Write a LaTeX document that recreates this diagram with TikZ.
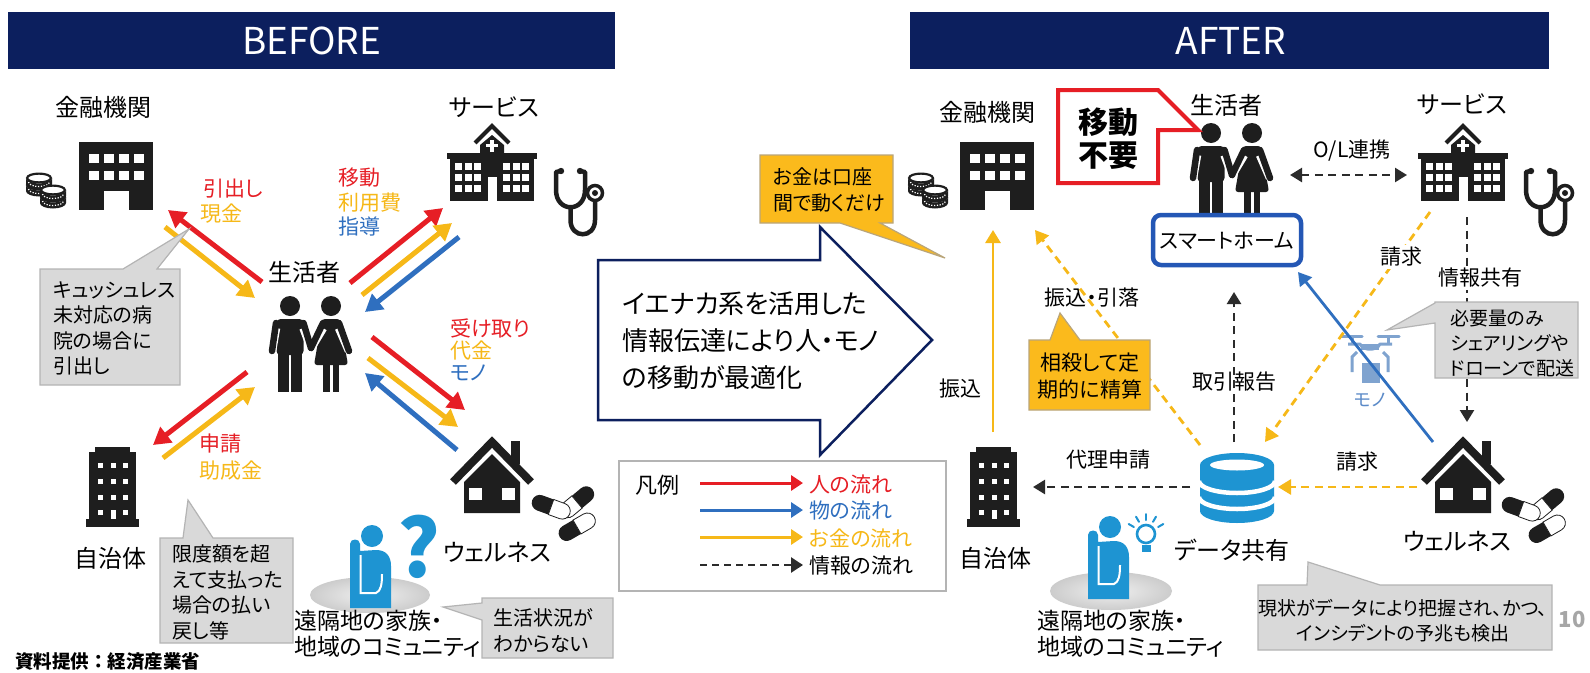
\documentclass[tikz,border=0pt]{standalone}
\usepackage{fontspec}
\setmainfont{Noto Sans CJK JP}[RawFeature={+palt}]
\newfontfamily\jpfixed{Noto Sans CJK JP}
\usetikzlibrary{arrows.meta}

\definecolor{navy}{HTML}{0C1F5E}
\definecolor{flowred}{HTML}{E61E25}
\definecolor{flowyel}{HTML}{F6B818}
\definecolor{flowblue}{HTML}{2F6FBF}
\definecolor{icondark}{HTML}{1E1E1E}
\definecolor{skyblue}{HTML}{1E94D2}
\definecolor{notegray}{HTML}{D9D9D9}
\definecolor{noteedge}{HTML}{B4B4B4}
\definecolor{noteorange}{HTML}{FBBA1C}
\definecolor{orangeedge}{HTML}{B9A57A}
\definecolor{homeblue}{HTML}{2457B5}
\definecolor{dronegray}{HTML}{7FA3CF}
\definecolor{monoblue}{HTML}{5B8AC8}
\definecolor{pagegray}{HTML}{A6A6A6}
\definecolor{infoblack}{HTML}{2B2B2B}

\tikzset{
  hdr/.style={inner sep=0pt,text=white,font=\fontsize{37}{42}\selectfont},
  lbl/.style={inner sep=0pt,font=\fontsize{24}{28}\selectfont},
  flowlbl/.style={inner sep=0pt,anchor=west,font=\fontsize{21}{24}\selectfont},
  linklbl/.style={inner sep=0pt,font=\fontsize{21}{24}\selectfont},
  notetxt/.style={inner sep=0pt,align=left,anchor=west,font=\fontsize{20}{25.5}\selectfont},
  note/.style={fill=notegray,draw=noteedge,line width=1.2pt,line join=miter},
  onote/.style={fill=noteorange,draw=orangeedge,line width=1.2pt,line join=miter},
  bigarrow/.style={line width=5pt,-{Triangle[length=17pt,width=19pt]}},
  slimarrow/.style={line width=2.8pt,-{Triangle[length=13pt,width=15pt]}},
  dsh/.style={dash pattern=on 8pt off 5.5pt},
  % office building with two rows of windows
  officebldg/.pic={
    \fill[icondark] (0,0) rectangle (74,68);
    \foreach \wx in {9.5,24.5,39.5,54.5}{
      \fill[white] (\wx,12) rectangle ++(10,9);
      \fill[white] (\wx,29) rectangle ++(10,9);}
    \fill[white] (24.5,49) rectangle (49.5,68.3);
  },
  % two small stacks of coins
  coinpile/.pic={
    \foreach \cx/\cy in {14/13,14/6,28/25,28/18}{
      \fill[icondark] (\cx-13,\cy) -- (\cx-13,\cy+6)
        arc[start angle=180,end angle=0,x radius=13,y radius=5.5]
        -- (\cx+13,\cy) arc[start angle=0,end angle=180,x radius=13,y radius=5.5] -- cycle;
      \draw[white,line width=1.2pt,dash pattern=on 1.2pt off 1.6pt]
        (\cx-10.5,\cy+4) arc[start angle=180,end angle=0,x radius=10.5,y radius=4.5];
      \filldraw[fill=white,draw=icondark,line width=2.2pt] (\cx,\cy) ellipse [x radius=11.9,y radius=4.4];
    }
  },
  % hospital with cross tower
  hospital/.pic={
    \draw[icondark,line width=4pt,miter limit=10] (-17,19) -- (0,2) -- (17,19);
    \fill[icondark] (-12,34) -- (-12,21) -- (0,11) -- (12,21) -- (12,34) -- cycle;
    \fill[white] (-1.6,15.5) rectangle (1.6,28);
    \fill[white] (-6,20.2) rectangle (6,23.4);
    \fill[icondark] (-45,29) rectangle (45,35);
    \fill[icondark] (-42,35) rectangle (42,77);
    \foreach \wx in {-37,-27.5,-18,11,20.5,30}{
      \foreach \wy in {39,50,61}{
        \fill[white] (\wx,\wy) rectangle ++(7,7);}}
    \fill[white] (-4.5,53) rectangle (4.5,77.3);
  },
  % stethoscope
  stetho/.pic={
    \draw[icondark,line width=4.5pt,line cap=round,line join=round]
      (9,3) -- (4,4) -- (4,22) .. controls (4,45) and (33,45) .. (33,22) -- (33,4) -- (28,3);
    \draw[icondark,line width=4.5pt]
      (18.5,39) -- (18.5,52) .. controls (18.5,71) and (43,71) .. (43,52) -- (43,34);
    \draw[icondark,line width=3.5pt] (43,25) circle [radius=7.5];
    \fill[icondark] (43,25) circle [radius=3];
    \fill[icondark] (9,3) circle [radius=3.2];
    \fill[icondark] (28,3) circle [radius=3.2];
  },
  % man and woman holding hands
  couple/.pic={
    \fill[icondark] (0,0) circle [radius=10];
    \fill[icondark,rounded corners=4pt] (-13.5,13) rectangle (13.5,49);
    \fill[icondark] (-12,45) rectangle (-1,86);
    \fill[icondark] (1,45) rectangle (12,86);
    \fill[icondark] (41,0) circle [radius=10];
    \fill[icondark,rounded corners=3pt] (32,13) -- (50,13) -- (58,59) -- (24,59) -- cycle;
    \fill[icondark] (33,57) rectangle (39.5,86);
    \fill[icondark] (42.5,57) rectangle (49,86);
    \foreach \ax/\ay/\bx/\by in {-14/17/-18/45, 13.5/17/21/42, 33/17/21/42, 49/17/59/45}{
      \draw[white,line width=8.5pt] (\ax,\ay+5) -- (\bx,\by);}
    \foreach \ax/\ay/\bx/\by in {-14/17/-18/45, 13.5/17/21/42, 33/17/21/42, 49/17/59/45}{
      \draw[icondark,line width=6.5pt,line cap=round] (\ax,\ay) -- (\bx,\by);}
  },
  % tall municipal building
  towerbldg/.pic={
    \fill[icondark] (9,0) rectangle (44,6);
    \fill[icondark] (3,5) rectangle (50,73);
    \fill[icondark] (0,72) rectangle (53,80);
    \foreach \wx in {12,24.5,37}{
      \foreach \wy in {16,32,48,63}{
        \fill[white] (\wx,\wy) rectangle ++(5,5);}}
    \fill[white] (24.5,63) rectangle (29.5,72.2);
  },
  % house with chimney
  house/.pic={
    \fill[icondark] (19,4) rectangle (28,27);
    \draw[icondark,line width=8pt,miter limit=10] (-39,45) -- (0,5) -- (39,45);
    \fill[icondark] (-28,45) -- (0,17) -- (28,45) -- (28,76) -- (-28,76) -- cycle;
    \fill[white] (-23,51) rectangle (-10,63);
    \fill[white] (10,51) rectangle (23,63);
  },
  % medicine capsule, dark half on the left
  capsule/.pic={
    \fill[icondark] (0,-8) -- (-12,-8) arc[start angle=270,end angle=90,radius=8] -- (0,8) -- cycle;
    \filldraw[fill=white,draw=icondark,line width=0.8pt] (0,-8) -- (12,-8)
      arc[start angle=-90,end angle=90,radius=8] -- (0,8) -- cycle;
  },
  % person resting chin on hand
  thinker/.pic={
    \fill[skyblue] (0,0) circle [radius=11];
    \fill[skyblue] (-22,72) -- (-22,8) .. controls (-22,2) and (-12,2) .. (-12,8) -- (-12,15)
      -- (4,14) .. controls (14,14) and (19,20) .. (19,30) -- (19,72) -- cycle;
    \draw[white,line width=2pt] (-11.5,19) -- (-11.5,57) -- (4,57) .. controls (9,55) and (10,48) .. (10,38);
  },
  % light bulb with rays
  bulb/.pic={
    \draw[skyblue,line width=2.6pt] (0,0) circle [radius=9];
    \fill[skyblue] (-4.5,11) rectangle (4.5,18);
    \foreach \a in {-150,-120,-90,-60,-30}{
      \draw[skyblue,line width=2pt,line cap=round] (\a:14) -- (\a:20);}
  },
  % database cylinder
  database/.pic={
    \fill[skyblue] (-37,0) -- (-37,46) arc[start angle=180,end angle=0,x radius=37,y radius=12]
      -- (37,0) arc[start angle=0,end angle=-180,x radius=37,y radius=12] -- cycle;
    \fill[white] (0,0) ellipse [x radius=27,y radius=5.5];
    \draw[white,line width=4.5pt] (-38,16) arc[start angle=180,end angle=0,x radius=38,y radius=12];
    \draw[white,line width=4.5pt] (-38,32) arc[start angle=180,end angle=0,x radius=38,y radius=12];
  },
  % delivery drone carrying a parcel
  drone/.pic={
    \draw[dronegray,line width=3pt,line cap=round] (-29,-16) -- (-8,-16) (8,-16) -- (29,-16);
    \draw[dronegray,line width=3pt] (-18,-16) -- (-18,-9) (18,-16) -- (18,-9);
    \draw[dronegray,line width=3pt,line join=round] (-22,-8) -- (-10,-8)
      .. controls (-7,-1) and (7,-1) .. (10,-8) -- (22,-8);
    \fill[dronegray] (-9,-8) rectangle (9,-2);
    \draw[dronegray,line width=3pt] (-13,0) -- (-18,5) -- (-18,20);
    \draw[dronegray,line width=3pt] (13,0) -- (18,5) -- (18,20);
    \fill[dronegray] (-8,11) rectangle (10,31);
  },
}

\begin{document}
\begin{tikzpicture}[x=1pt,y=-1pt]
\fill[white] (0,0) rectangle (1590,672);
\useasboundingbox (0,0) rectangle (1590,672);

% ---------------- headers ----------------
\fill[navy] (8,12) rectangle (615,69);
\node[hdr] (hdrB) at (311.5,41) {BEFORE};
\fill[navy] (910,12) rectangle (1549,69);
\node[hdr] (hdrA) at (1231,41) {AFTER};

% ================= BEFORE =================
\node[lbl] (bankB) at (103,107) {金融機関};
\pic at (79,142) {officebldg};
\pic at (25,172) {coinpile};

\node[lbl] (servB) at (494,107) {サービス};
\pic at (492,124) {hospital};
\pic at (552,168) {stetho};

\node[lbl] (lifeB) at (304,272) {生活者};
\pic at (290,306) {couple};

\pic at (86,447) {towerbldg};
\node[lbl] (govB) at (110,558) {自治体};

\pic at (492,437) {house};
\pic[rotate=-140] at (577,502) {capsule};
\pic[rotate=-20] at (551,507) {capsule};
\pic[rotate=30] at (577,527) {capsule};
\node[lbl] (wellB) at (497,552) {ウェルネス};

\shade[inner color=gray!12,outer color=gray!40] (370,595) ellipse [x radius=60,y radius=18];
\pic at (372,536) {thinker};
\node[inner sep=0pt,text=skyblue,font=\bfseries\fontsize{80}{80}\selectfont] (qmark) at (419,547) {?};
\node[inner sep=0pt,align=left,anchor=west,font=\fontsize{23}{26}\selectfont] (remoteB) at (294,634)
  {遠隔地の家族・\\地域のコミュニティ};

% flows between the household and each party
\coordinate (bkR1) at (262,282); \coordinate (bkR2) at (168,210);
\coordinate (bkY1) at (165,227); \coordinate (bkY2) at (255,298);
\draw[bigarrow,flowred] (bkR1) -- (bkR2);
\draw[bigarrow,flowyel] (bkY1) -- (bkY2);
\node[flowlbl,text=flowred] (lbWithdraw) at (203,189) {引出し};
\node[flowlbl,text=flowyel] (lbCash) at (200,214) {現金};

\coordinate (svR1) at (350,283); \coordinate (svR2) at (443,208);
\coordinate (svY1) at (362,295); \coordinate (svY2) at (452,223);
\coordinate (svB1) at (459,237); \coordinate (svB2) at (365,312);
\draw[bigarrow,flowred] (svR1) -- (svR2);
\draw[bigarrow,flowyel] (svY1) -- (svY2);
\draw[bigarrow,flowblue] (svB1) -- (svB2);
\node[flowlbl,text=flowred] (lbMove) at (338,178) {移動};
\node[flowlbl,text=flowyel] (lbFee) at (338,203) {利用費};
\node[flowlbl,text=flowblue] (lbGuide) at (338,226) {指導};

\coordinate (wlR1) at (372,337); \coordinate (wlR2) at (465,410);
\coordinate (wlY1) at (368,358); \coordinate (wlY2) at (458,427);
\coordinate (wlB1) at (457,450); \coordinate (wlB2) at (365,373);
\draw[bigarrow,flowred] (wlR1) -- (wlR2);
\draw[bigarrow,flowyel] (wlY1) -- (wlY2);
\draw[bigarrow,flowblue] (wlB1) -- (wlB2);
\node[flowlbl,text=flowred] (lbRecv) at (450,328) {受け取り};
\node[flowlbl,text=flowyel] (lbPrice) at (450,351) {代金};
\node[flowlbl,text=flowblue] (lbGoods) at (450,373) {モノ};

\coordinate (gvR1) at (247,372); \coordinate (gvR2) at (153,445);
\coordinate (gvY1) at (163,458); \coordinate (gvY2) at (255,387);
\draw[bigarrow,flowred] (gvR1) -- (gvR2);
\draw[bigarrow,flowyel] (gvY1) -- (gvY2);
\node[flowlbl,text=flowred] (lbApply) at (199,444) {申請};
\node[flowlbl,text=flowyel] (lbGrant) at (199,471) {助成金};

% grey notes
\path[note] (40,269) -- (123,269) -- (189,229) -- (157,269) -- (180,269) -- (180,385) -- (40,385) -- cycle;
\node[notetxt] (noteCash) at (53,328.5) {キュッシュレス\\未対応の病\\院の場合に\\引出し};
\path[note] (160,538) -- (183,538) -- (188,500) -- (213,538) -- (293,538) -- (293,643) -- (160,643) -- cycle;
\node[notetxt] (noteRefund) at (172,592.5) {限度額を超\\えて支払った\\場合の払い\\戻し等};
\path[note] (482,598) -- (613,598) -- (613,658) -- (482,658) -- (482,620) -- (443,607) -- (482,603) -- cycle;
\node[notetxt] (noteLife) at (493,630.5) {生活状況が\\わからない};

\node[inner sep=0pt,anchor=west,font=\jpfixed\bfseries\fontsize{18.5}{22}\selectfont] (source) at (15,662) {資料提供：経済産業省};

% ================= centre =================
\draw[navy,line width=2.5pt,fill=white,line join=miter]
  (598,260) -- (820,260) -- (820,227) -- (932,340) -- (820,455) -- (820,420) -- (598,420) -- cycle;
\node[inner sep=0pt,align=left,anchor=west,font=\fontsize{26}{37}\selectfont] (midtxt) at (622,341)
  {イエナカ系を活用した\\情報伝達により人・モノ\\の移動が最適化};

\path[onote] (760,155) -- (893,155) -- (893,223) -- (880,223) -- (945,258) -- (840,223) -- (760,223) -- cycle;
\node[notetxt] (noteAcct) at (773,190) {お金は口座\\間で動くだけ};

% legend
\draw[noteedge,line width=1.2pt] (619,461) rectangle (946,591);
\node[inner sep=0pt,font=\fontsize{22}{26}\selectfont] (legTitle) at (657,485) {凡例};
\coordinate (lg1a) at (700,483); \coordinate (lg1b) at (803,483);
\coordinate (lg2a) at (700,510); \coordinate (lg2b) at (803,510);
\coordinate (lg3a) at (700,537); \coordinate (lg3b) at (803,537);
\coordinate (lg4a) at (700,565); \coordinate (lg4b) at (803,565);
\draw[flowred,line width=3pt,-{Triangle[length=12pt,width=15pt]}] (lg1a) -- (lg1b);
\draw[flowblue,line width=3pt,-{Triangle[length=12pt,width=15pt]}] (lg2a) -- (lg2b);
\draw[flowyel,line width=3pt,-{Triangle[length=12pt,width=15pt]}] (lg3a) -- (lg3b);
\draw[infoblack,line width=2.4pt,dash pattern=on 7pt off 5pt,-{Triangle[length=12pt,width=15pt]}] (lg4a) -- (lg4b);
\node[flowlbl,text=flowred] (leg1) at (809,484) {人の流れ};
\node[flowlbl,text=flowblue] (leg2) at (809,511) {物の流れ};
\node[flowlbl,text=flowyel] (leg3) at (809,538) {お金の流れ};
\node[flowlbl] (leg4) at (809,566) {情報の流れ};

% ================= AFTER =================
\node[lbl] (bankA) at (987,112) {金融機関};
\pic at (960,142) {officebldg};
\pic at (907,172) {coinpile};

\node[lbl] (lifeA) at (1226,105) {生活者};
\pic at (1211,133) {couple};
\draw[homeblue,line width=4.5pt,rounded corners=8pt,fill=white] (1153,215) rectangle (1301,265);
\node[linklbl] (smartA) at (1227,241) {スマートホーム};

\draw[flowred,line width=4pt,fill=white,line join=miter]
  (1058,90) -- (1158,90) -- (1198,130) -- (1158,130) -- (1158,183) -- (1058,183) -- cycle;
\node[inner sep=0pt,align=center,font=\bfseries\fontsize{30}{33}\selectfont] (noMove) at (1108,139) {移動\\不要};

\node[lbl] (servA) at (1462,104) {サービス};
\pic at (1463,124) {hospital};
\pic at (1522,168) {stetho};

\pic at (967,447) {towerbldg};
\node[lbl] (govA) at (995,558) {自治体};

\pic at (1237,465) {database};
\node[lbl] (dataA) at (1232,550) {データ共有};

\pic at (1463,437) {house};
\pic[rotate=-140] at (1547,504) {capsule};
\pic[rotate=-20] at (1521,509) {capsule};
\pic[rotate=30] at (1547,529) {capsule};
\node[lbl] (wellA) at (1457,541) {ウェルネス};

\pic at (1370,352) {drone};
\node[inner sep=0pt,text=monoblue,font=\fontsize{18}{20}\selectfont] (monoA) at (1370,400) {モノ};

\shade[inner color=gray!12,outer color=gray!40] (1111,591) ellipse [x radius=61,y radius=19];
\pic at (1110,527) {thinker};
\pic at (1146,534) {bulb};
\node[inner sep=0pt,align=left,anchor=west,font=\fontsize{23}{26}\selectfont] (remoteA) at (1037,634)
  {遠隔地の家族・\\地域のコミュニティ};

% connectors
\coordinate (olA) at (1290,175); \coordinate (olB) at (1407,175);
\draw[infoblack,line width=2.4pt,dsh,{Triangle[length=12pt,width=14pt]}-{Triangle[length=12pt,width=14pt]}] (olA) -- (olB);
\node[linklbl] (olLbl) at (1352,151) {O/L連携};

\coordinate (hospBot) at (1467,217); \coordinate (wellTop) at (1467,422);
\draw[infoblack,line width=2.4pt,dsh,-{Triangle[length=12pt,width=14pt]}] (hospBot) -- (wellTop);
\node[linklbl,fill=white,inner sep=2pt] (shareLbl) at (1480,278) {情報共有};

\coordinate (hospLL) at (1430,212); \coordinate (dbTR) at (1265,442);
\draw[flowyel,slimarrow,dsh] (hospLL) -- (dbTR);
\node[linklbl,fill=white,inner sep=2pt] (billLbl1) at (1401,257) {請求};

\coordinate (wellTL) at (1433,442); \coordinate (homeBR) at (1298,272);
\draw[flowblue,slimarrow] (wellTL) -- (homeBR);

\coordinate (wellL) at (1417,487); \coordinate (dbR) at (1278,487);
\draw[flowyel,slimarrow,dsh] (wellL) -- (dbR);
\node[linklbl] (billLbl2) at (1357,462) {請求};

\coordinate (dbT) at (1234,442); \coordinate (homeB) at (1234,292);
\draw[infoblack,line width=2.4pt,dsh,-{Triangle[length=12pt,width=14pt]}] (dbT) -- (homeB);
\node[linklbl] (reportLbl) at (1234,382) {取引報告};

\coordinate (dbL) at (1190,487); \coordinate (govR) at (1033,487);
\draw[infoblack,line width=2.4pt,dsh,-{Triangle[length=12pt,width=14pt]}] (dbL) -- (govR);
\node[linklbl] (proxyLbl) at (1108,460) {代理申請};

\coordinate (dbTL) at (1200,445); \coordinate (bankBR) at (1035,230);
\draw[flowyel,slimarrow,dsh] (dbTL) -- (bankBR);
\node[linklbl] (debitLbl) at (1092,298) {振込・引落};

\coordinate (govT) at (993,432); \coordinate (bankB2) at (993,230);
\draw[flowyel,slimarrow] (govT) -- (bankB2);
\node[linklbl] (transLbl) at (960,389) {振込};

% notes
\path[onote] (1029,340) -- (1050,340) -- (1060,313) -- (1080,340) -- (1150,340) -- (1150,410) -- (1029,410) -- cycle;
\node[inner sep=0pt,align=center,font=\fontsize{21}{27}\selectfont] (noteNet) at (1090,376.5) {相殺して定\\期的に精算};

\path[note] (1435,303) -- (1387,330) -- (1435,323) -- (1435,378) -- (1578,378) -- (1578,302) -- (1435,302) -- cycle;
\node[notetxt,font=\fontsize{19}{25}\selectfont] (noteDrone) at (1450,343) {必要量のみ\\シェアリングや\\ドローンで配送};

\path[note] (1258,585) -- (1307,585) -- (1308,562) -- (1380,585) -- (1552,585) -- (1552,650) -- (1258,650) -- cycle;
\node[inner sep=0pt,align=center,font=\fontsize{19}{25}\selectfont] (noteData) at (1403,620.5)
  {現状がデータにより把握され、かつ、\\インシデントの予兆も検出};

\node[inner sep=0pt,text=pagegray,font=\bfseries\fontsize{22}{24}\selectfont] (pageNo) at (1572,620) {10};
\end{tikzpicture}
\end{document}
